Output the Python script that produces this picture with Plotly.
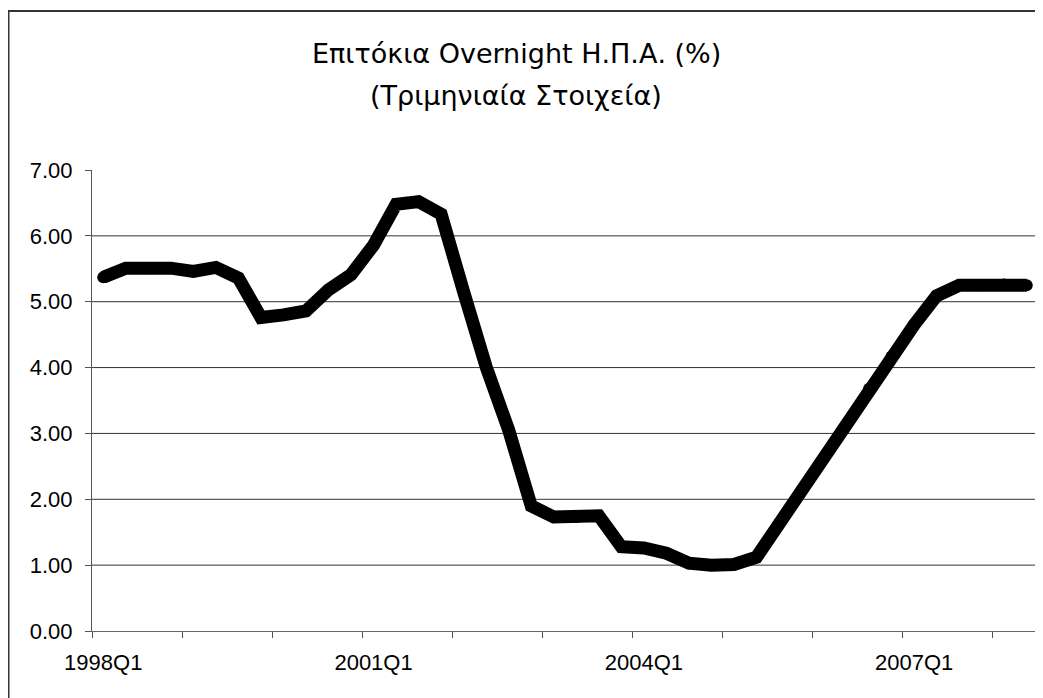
import plotly.graph_objects as go

quarters = [f"{y}Q{q}" for y in range(1998, 2009) for q in range(1, 5)][:42]
rates = [5.37, 5.51, 5.51, 5.51, 5.46, 5.52, 5.36, 4.76, 4.80, 4.86,
         5.18, 5.41, 5.86, 6.48, 6.52, 6.33, 5.15, 4.01, 3.05, 1.90,
         1.73, 1.73, 1.75, 1.28, 1.26, 1.18, 1.03, 1.00, 1.01, 1.12,
         1.63, 2.13, 2.63, 3.13, 3.68, 4.17, 4.65, 5.09, 5.25, 5.25,
         5.26, 5.25]
label_every = 12
tick_every = 4

idx = list(range(len(quarters)))

OFF = 8  # page body margin
L, R, T, B = 92 - OFF, 1038 - OFF, 170 - OFF, 631 - OFF
W, H = 1043 - OFF, 698 - OFF

def px_x(p):
    return (p - OFF - L) / (R - L)

def px_y(p):
    return (B - (p - OFF)) / (B - T)

fig = go.Figure()
fig.add_trace(go.Scatter(
    x=idx, y=rates, mode="lines+markers",
    line=dict(color="black", width=13),
    marker=dict(color="black", size=12, line=dict(width=0)),
    hoverinfo="skip", showlegend=False,
))

shapes = [dict(type="line", xref="paper", yref="y", x0=0, x1=1, y0=v, y1=v,
               line=dict(color="#333333", width=1), layer="below")
          for v in range(1, 7)]
shapes.append(dict(type="rect", xref="paper", yref="paper",
                   x0=px_x(8.5), x1=1.2, y0=-0.4, y1=px_y(11),
                   line=dict(color="#333333", width=2)))

tick_font = dict(family="Liberation Sans, Arial", size=22, color="black")
title_font = dict(family="DejaVu Sans", size=27, color="black")
fig.update_layout(
    width=W, height=H,
    margin=dict(l=L, r=W - R, t=T, b=H - B, pad=0),
    paper_bgcolor="white", plot_bgcolor="white",
    shapes=shapes,
    xaxis=dict(
        range=[-0.5, len(quarters) - 0.5],
        tickvals=idx[::label_every],
        ticktext=quarters[::label_every],
        ticks="", showgrid=False, zeroline=False,
        showline=True, linecolor="#666666", linewidth=1,
        tickfont=tick_font, ticklabelstandoff=12,
        minor=dict(tickvals=[i - 0.5 for i in range(0, len(quarters) + 1, tick_every)],
                   ticks="outside", ticklen=6, tickcolor="#555555", showgrid=False),
    ),
    yaxis=dict(
        range=[0, 7], tickvals=list(range(0, 8)), tickformat=".2f",
        ticks="outside", ticklen=6, tickcolor="#555555",
        showgrid=False, zeroline=False,
        showline=True, linecolor="#555555", linewidth=1,
        tickfont=tick_font, ticklabelstandoff=8,
    ),
    annotations=[
        dict(text="Επιτόκια Overnight Η.Π.Α. (%)", xref="paper", yref="paper",
             x=px_x(516), y=px_y(53), xanchor="center", yanchor="middle",
             showarrow=False, font=title_font),
        dict(text="(Τριμηνιαία Στοιχεία)", xref="paper", yref="paper",
             x=px_x(516), y=px_y(95), xanchor="center", yanchor="middle",
             showarrow=False, font=title_font),
    ],
)

fig.write_html("out.html")
